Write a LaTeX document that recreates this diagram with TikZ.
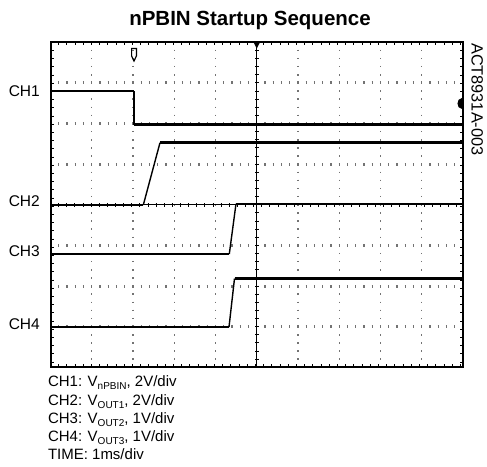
\documentclass[tikz,border=0pt]{standalone}
\usepackage{fontspec}
\setmainfont{Liberation Sans}
\usepackage{tikz}

\newcommand{\vsub}[1]{\raisebox{-3pt}{\fontsize{10}{10}\selectfont #1}}

\tikzset{
  griddot/.style={black!55, line width=1.4pt, dash pattern=on 1.4pt off 6.725pt, dash phase=0.7pt},
  gridtick/.style={black!55, line width=3pt, dash pattern=on 1.2pt off 7.05pt, dash phase=0.6pt},
  axistick/.style={black, line width=4.5pt, dash pattern=on 0.9pt off 7.225pt, dash phase=0.45pt},
  edgetick/.style={black, line width=3pt, dash pattern=on 0.9pt off 7.3pt, dash phase=0.45pt},
  trace/.style={black, line width=2.6pt},
  edge/.style={black, line width=1.4pt},
  chlabel/.style={anchor=east, inner sep=0pt, font=\fontsize{15.5}{18}\selectfont},
  legend/.style={anchor=base west, inner sep=0pt, font=\fontsize{15}{18}\selectfont}
}

\begin{document}
\begin{tikzpicture}[x=1pt, y=-1pt]
  \useasboundingbox (0,0) rectangle (487,466);

  % graticule
  \foreach \i in {1,2,3,4,6,7,8,9}
    \draw[griddot] ({50.5+41.25*\i},42.3) -- ({50.5+41.25*\i},367.3);
  \foreach \j in {1,2,3,5,6,7}
    \draw[gridtick] (50.5,{42.3+40.625*\j}) -- (463,{42.3+40.625*\j});
  \draw[black, line width=0.9pt] (256.75,42.3) -- (256.75,367.3);
  \draw[black, line width=0.9pt] (50.5,204.8) -- (463,204.8);
  \draw[axistick] (256.75,42.3) -- (256.75,367.3);
  \draw[axistick] (50.5,204.8) -- (463,204.8);
  \draw[edgetick] (50.5,43.8) -- (463,43.8);
  \draw[edgetick] (50.5,365.8) -- (463,365.8);
  \draw[edgetick] (52,42.3) -- (52,367.3);
  \draw[edgetick] (461.5,42.3) -- (461.5,367.3);
  \draw[black, line width=2pt] (50.5,42.3) rectangle (463,367.3);

  % markers
  \draw[black, line width=1.2pt] (131.6,48.5) -- (136.4,48.5) -- (136.4,56) -- (134,61) -- (131.6,56) -- cycle;
  \fill[black] (253.5,42.3) -- (260,42.3) -- (256.75,48.5) -- cycle;
  \fill[black] (462,97.5) .. controls (456,97.5) and (456,108.5) .. (462,108.5) -- cycle;

  % CH1
  \draw[trace] (50.5,91) -- (134,91);
  \draw[edge] (134,91) -- (134,124.5);
  \draw[trace] (134,124.5) -- (463,124.5);
  % CH2
  \draw[trace] (50.5,205) -- (143.3,205);
  \draw[edge] (143.3,205) -- (160,142.7);
  \draw[trace] (160,142.7) -- (463,142.7);
  % CH3
  \draw[trace] (50.5,254) -- (229.3,254);
  \draw[edge] (229.3,254) -- (236,203.8);
  \draw[trace] (236,203.8) -- (463,203.8);
  % CH4
  \draw[trace] (50.5,327) -- (229,327);
  \draw[edge] (229,327) -- (234.5,278.5);
  \draw[trace] (234.5,278.5) -- (463,278.5);

  % labels
  \node[anchor=base, inner sep=0pt, font=\bfseries\fontsize{20.5}{24}\selectfont] (title) at (250,25) {nPBIN Startup Sequence};
  \node[anchor=base west, inner sep=0pt, rotate=-90, font=\fontsize{16.3}{18}\selectfont] (code) at (471.5,43) {ACT8931A-003};
  \node[chlabel] (ch1) at (40,90.7) {CH1};
  \node[chlabel] (ch2) at (40,200.7) {CH2};
  \node[chlabel] (ch3) at (40,251) {CH3};
  \node[chlabel] (ch4) at (40,324.3) {CH4};

  \node[legend] (leg1) at (47.8,386.7) {CH1: V\vsub{nPBIN}, 2V/div};
  \node[legend] (leg2) at (47.8,405) {CH2: V\vsub{OUT1}, 2V/div};
  \node[legend] (leg3) at (47.8,423.2) {CH3: V\vsub{OUT2}, 1V/div};
  \node[legend] (leg4) at (47.8,441.4) {CH4: V\vsub{OUT3}, 1V/div};
  \node[legend] (leg5) at (47.8,459.7) {TIME: 1ms/div};
\end{tikzpicture}
\end{document}
